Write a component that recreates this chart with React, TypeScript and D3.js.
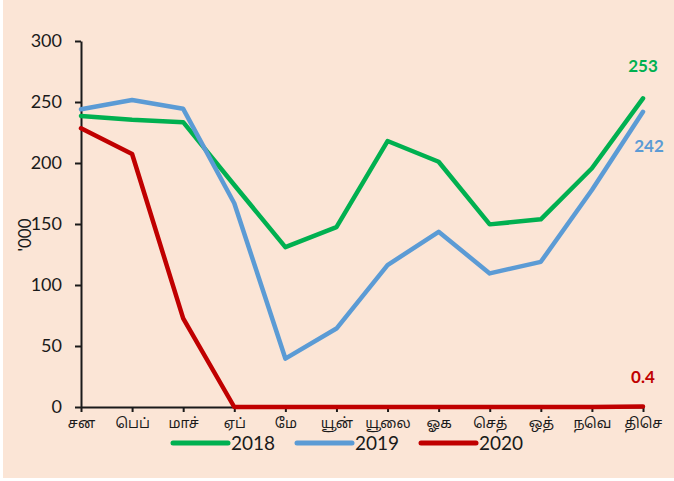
import { useEffect, useRef } from "react";
import * as d3 from "d3";

const W = 674;
const H = 481;
const MARGIN = { top: 41, right: 31, bottom: 74, left: 81 };

const MONTHS = ["சன", "பெப்", "மாச்", "ஏப்", "மே", "யூன்", "யூலை", "ஓக", "செத்", "ஒத்", "நவெ", "திசெ"];
const Y_TICKS = [0, 50, 100, 150, 200, 250, 300];

const S2018 = [238.6, 235.5, 233.5, 182, 131, 147.5, 218, 201, 149.7, 153.8, 195.7, 253];
const S2019 = [244, 251.7, 244.4, 167, 39.7, 64.3, 116.3, 143.6, 109.5, 119, 177.9, 242];
const S2020 = [228.5, 207.4, 72.6, 0, 0, 0, 0, 0, 0, 0, 0, 0.4];

const SERIES = [
  { name: "2018", values: S2018, color: "#00B050", label: "253", dx: 0, dy: -26 },
  { name: "2019", values: S2019, color: "#5B9BD5", label: "242", dx: 6, dy: 40 },
  { name: "2020", values: S2020, color: "#C00000", label: "0.4", dx: 0, dy: -24 },
];

const FONT = 'Lato, "Open Sans", sans-serif';
const TAMIL_FONT = '"Noto Sans Tamil", "Lohit Tamil", "Noto Sans", Lato, sans-serif';

export default function App() {
  const svgRef = useRef<SVGSVGElement>(null);

  useEffect(() => {
    const svg = d3.select(svgRef.current);
    svg.selectAll("*").remove();

    svg
      .append("rect")
      .attr("x", 3)
      .attr("y", 0)
      .attr("width", W - 3)
      .attr("height", H - 3)
      .attr("fill", "#FBE5D6");

    const x = d3
      .scalePoint<string>()
      .domain(MONTHS)
      .range([MARGIN.left, W - MARGIN.right]);
    const y = d3
      .scaleLinear()
      .domain([0, 300])
      .range([H - MARGIN.bottom, MARGIN.top]);

    // y axis
    const yAxis = svg
      .append("g")
      .attr("transform", `translate(${MARGIN.left},0)`)
      .call(d3.axisLeft(y).tickValues(Y_TICKS).tickSize(6).tickSizeOuter(0).tickPadding(13));
    yAxis.select(".domain").attr("stroke", "#1a1a1a").attr("stroke-width", 2);
    yAxis.selectAll(".tick line").attr("stroke", "#1a1a1a").attr("stroke-width", 2);
    yAxis
      .selectAll(".tick text")
      .attr("fill", "#1a1a1a")
      .attr("font-size", 18)
      .attr("font-family", FONT);

    // x axis
    const xAxis = svg
      .append("g")
      .attr("transform", `translate(0,${H - MARGIN.bottom})`)
      .call(d3.axisBottom(x).tickSize(5).tickSizeOuter(0).tickPadding(6));
    xAxis.select(".domain").attr("stroke", "#1a1a1a").attr("stroke-width", 2);
    xAxis.selectAll(".tick line").attr("stroke", "#1a1a1a").attr("stroke-width", 2);
    xAxis
      .selectAll(".tick text")
      .attr("fill", "#1a1a1a")
      .attr("font-size", 14)
      .attr("font-family", TAMIL_FONT);

    // y axis title
    svg
      .append("text")
      .attr("transform", `translate(31,235) rotate(-90)`)
      .attr("text-anchor", "middle")
      .attr("fill", "#1a1a1a")
      .attr("font-size", 17)
      .attr("font-family", FONT)
      .text("'000");

    const line = d3
      .line<number>()
      .x((_, i) => x(MONTHS[i]) as number)
      .y((v) => y(v));

    SERIES.forEach((s) => {
      svg
        .append("path")
        .datum(s.values)
        .attr("d", line)
        .attr("fill", "none")
        .attr("stroke", s.color)
        .attr("stroke-width", 4.5)
        .attr("stroke-linecap", "round")
        .attr("stroke-linejoin", "round");

      const last = s.values.length - 1;
      svg
        .append("text")
        .attr("x", (x(MONTHS[last]) as number) + s.dx)
        .attr("y", y(s.values[last]) + s.dy)
        .attr("text-anchor", "middle")
        .attr("fill", s.color)
        .attr("font-size", 17)
        .attr("font-weight", 700)
        .attr("font-family", FONT)
        .text(s.label);
    });

    // legend
    const legend = svg.append("g").attr("transform", "translate(173,443)");
    SERIES.forEach((s, i) => {
      const lx = i * 124;
      legend
        .append("line")
        .attr("x1", lx)
        .attr("x2", lx + 55)
        .attr("y1", 0)
        .attr("y2", 0)
        .attr("stroke", s.color)
        .attr("stroke-width", 5)
        .attr("stroke-linecap", "round");
      legend
        .append("text")
        .attr("x", lx + 58)
        .attr("y", 7)
        .attr("fill", "#1a1a1a")
        .attr("font-size", 19)
        .attr("font-family", FONT)
        .text(s.name);
    });
  }, []);

  return (
    <svg
      ref={svgRef}
      width={W}
      height={H}
      style={{ position: "absolute", left: 0, top: 0, background: "#ffffff" }}
    />
  );
}
